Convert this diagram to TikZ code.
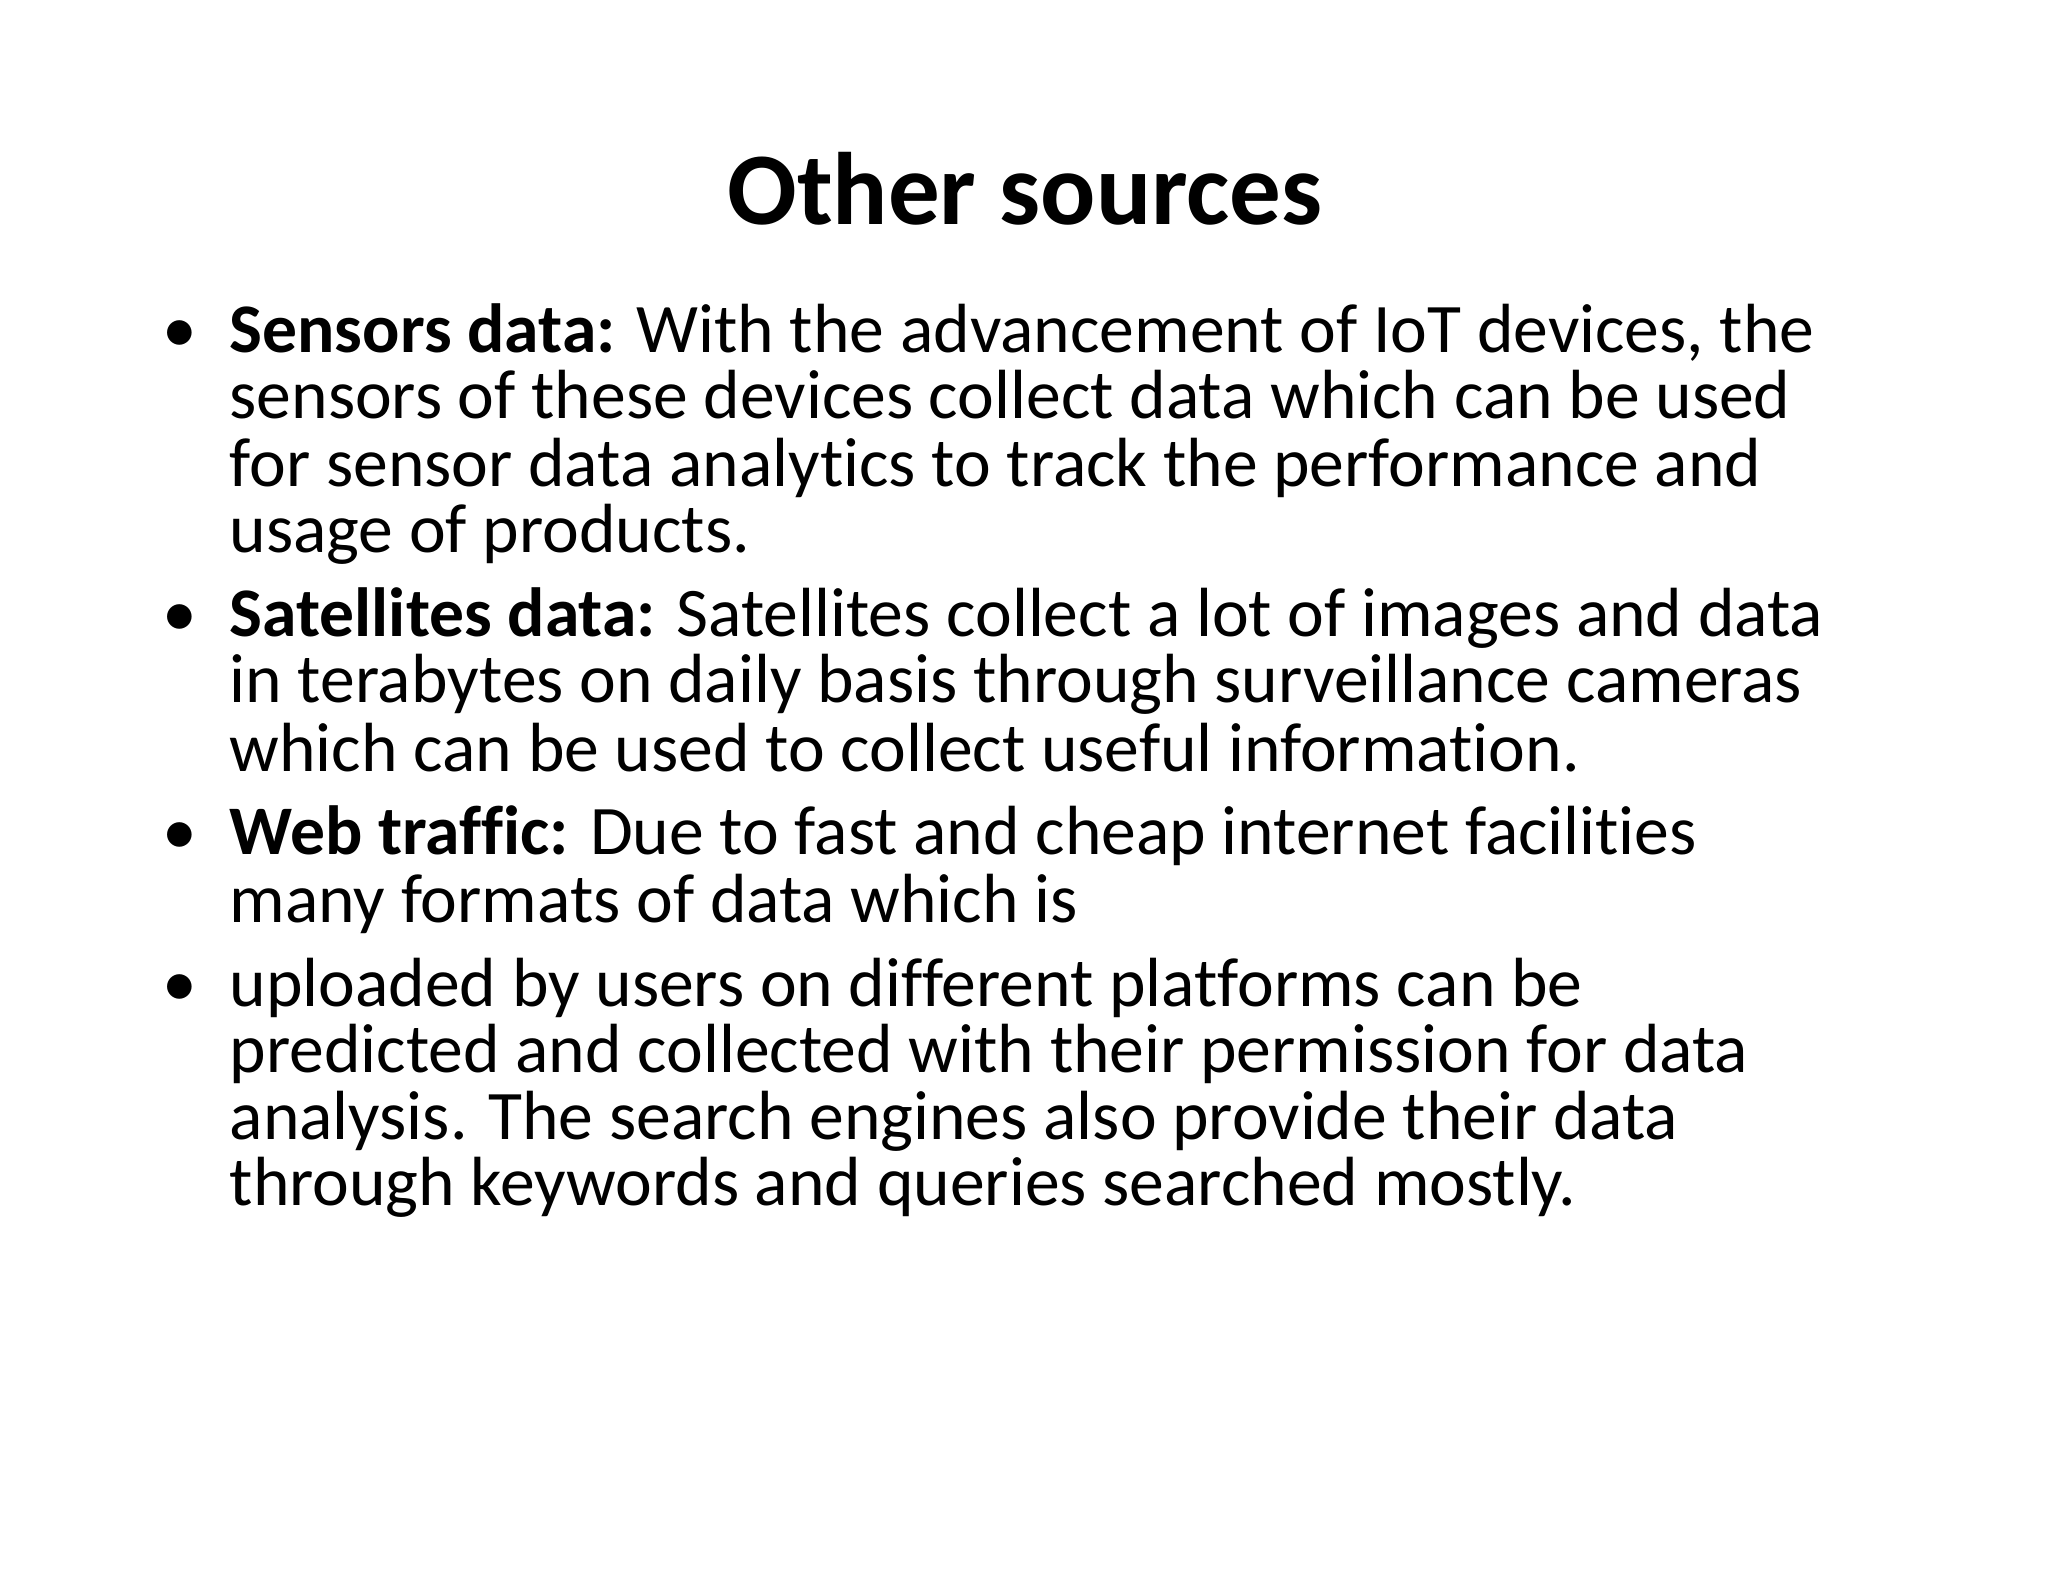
\documentclass[tikz,border=0pt]{standalone}
\usepackage{fontspec}
\setmainfont{Carlito}[Ligatures=NoCommon]
\begin{document}
\begin{tikzpicture}[x=1cm,y=-1cm,
  ln/.style={anchor=base west,inner sep=0pt,font=\fontsize{19.8}{24}\selectfont},
  bul/.style={anchor=base west,inner sep=0pt,font=\fontsize{19.8}{24}\selectfont}]
\useasboundingbox (0,0) rectangle (20.48,15.82);
\node[anchor=base,inner sep=0pt,font=\fontsize{29.3}{36}\selectfont\bfseries] (title) at (10.25,2.25) {Other sources};
\foreach \y in {3.53,6.36,8.55,10.06} \node[bul] at (1.62,\y) {•};
\node[ln] (a1) at (2.29,3.53) {\textbf{Sensors data:} With the advancement of IoT devices, the};
\node[ln] (a2) at (2.29,4.19) {sensors of these devices collect data which can be used};
\node[ln] (a3) at (2.29,4.86) {for sensor data analytics to track the performance and};
\node[ln] (a4) at (2.29,5.52) {usage of products.};
\node[ln] (b1) at (2.29,6.36) {\textbf{Satellites data:} Satellites collect a lot of images and data};
\node[ln] (b2) at (2.29,7.03) {in terabytes on daily basis through surveillance cameras};
\node[ln] (b3) at (2.29,7.71) {which can be used to collect useful information.};
\node[ln] (c1) at (2.29,8.55) {\textbf{Web traffic:} Due to fast and cheap internet facilities};
\node[ln] (c2) at (2.29,9.22) {many formats of data which is};
\node[ln] (d1) at (2.29,10.06) {uploaded by users on different platforms can be};
\node[ln] (d2) at (2.29,10.72) {predicted and collected with their permission for data};
\node[ln] (d3) at (2.29,11.39) {analysis. The search engines also provide their data};
\node[ln] (d4) at (2.29,12.05) {through keywords and queries searched mostly.};
\end{tikzpicture}
\end{document}
